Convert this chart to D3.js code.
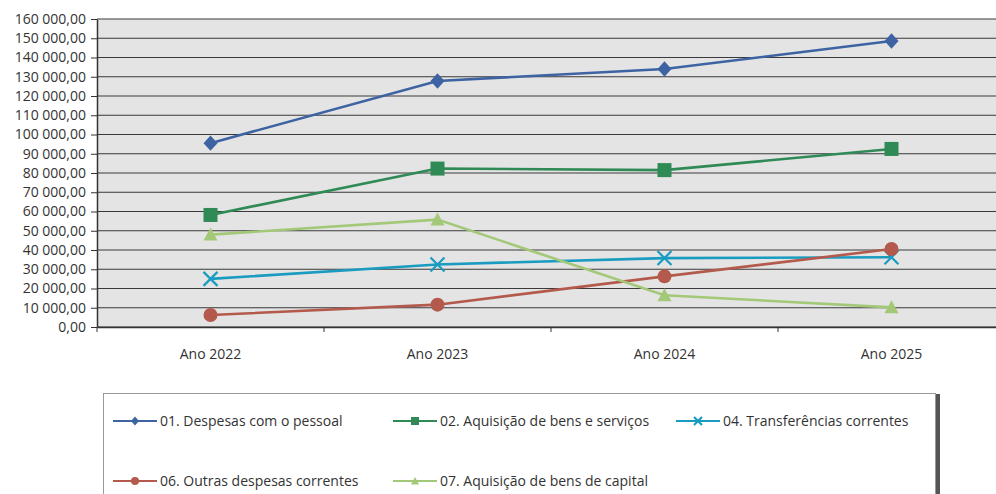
<!DOCTYPE html>
<html><head><meta charset="utf-8">
<script src="https://cdn.jsdelivr.net/npm/d3@7"></script>
<style>body{margin:0;background:#fff}svg{display:block}text{font-family:"Open Sans","Noto Sans",sans-serif;fill:#333}</style>
</head><body><svg id="c" width="996" height="494"></svg>
<script>
const categories = ["Ano 2022","Ano 2023","Ano 2024","Ano 2025"];
const seriesNames = ["01. Despesas com o pessoal","02. Aquisição de bens e serviços","04. Transferências correntes","06. Outras despesas correntes","07. Aquisição de bens de capital"];
const pessoal = [95500, 127800, 134000, 148600];
const bensServicos = [58200, 82300, 81500, 92500];
const transferencias = [25000, 32500, 35800, 36200];
const outras = [6200, 11600, 26300, 40500];
const bensCapital = [48000, 55800, 16500, 10200];
const yTicks = d3.range(0, 160001, 10000);

const series = [
 {name: seriesNames[0], values: pessoal, color: "#3e63a3", shape: "diamond"},
 {name: seriesNames[1], values: bensServicos, color: "#2f8a56", shape: "square"},
 {name: seriesNames[2], values: transferencias, color: "#1a9cc0", shape: "x"},
 {name: seriesNames[3], values: outras, color: "#b35a4c", shape: "circle"},
 {name: seriesNames[4], values: bensCapital, color: "#a3c878", shape: "triangle"}
];

const svg = d3.select("#c");
const m = {left: 97, top: 19, bottom: 327};
const x = d3.scaleBand().domain(categories).range([m.left, m.left + 4*227]);
const y = d3.scaleLinear().domain([0,160000]).range([m.bottom, m.top]);

// plot background
svg.append("rect").attr("x", m.left).attr("y", m.top).attr("width", 996-m.left).attr("height", m.bottom-m.top).attr("fill", "#e4e4e4");

// gridlines
svg.append("g").selectAll("line").data(yTicks).join("line")
 .attr("x1", m.left).attr("x2", 996).attr("y1", d=>y(d)).attr("y2", d=>y(d))
 .attr("stroke", "#3a3a3a").attr("stroke-width", 1.2);

const fmt = v => { const s = d3.format(",.2f")(v); return s.replace(/,/g," ").replace(/\.(\d\d)$/, ",$1"); };
const ya = svg.append("g").attr("transform", `translate(${m.left},0)`)
 .call(d3.axisLeft(y).tickValues(yTicks).tickFormat(fmt).tickSize(6).tickSizeOuter(0));
ya.select(".domain").attr("stroke", "#333").attr("stroke-width", 1.5);
ya.selectAll(".tick line").attr("stroke", "#333");
ya.selectAll("text").attr("font-size", 14).attr("fill", "#3a3a3a").attr("x", -11).style("font-family", '"Open Sans",sans-serif');

const xa = svg.append("g").attr("transform", `translate(0,${m.bottom})`)
 .call(d3.axisBottom(x).tickSize(0));
xa.select(".domain").attr("stroke", "#333").attr("stroke-width", 1.5);
xa.selectAll("text").attr("font-size", 14).attr("fill", "#333").attr("dy", "2.05em").style("font-family", '"Open Sans",sans-serif');
// boundary tick marks
svg.append("g").selectAll("line").data(categories).join("line")
 .attr("x1", d=>x(d)).attr("x2", d=>x(d)).attr("y1", m.bottom).attr("y2", m.bottom+5)
 .attr("stroke", "#333");

const cx = d => x(d) + x.bandwidth()/2;
const line = d3.line().x((d,i)=>cx(categories[i])).y(d=>y(d));

function marker(g, shape, color, s) {
 if (shape === "diamond") { const w = s*0.5, h = s*0.55; g.append("path").attr("d", `M0,${-h}L${w},0L0,${h}L${-w},0Z`).attr("fill", color); }
 else if (shape === "square") g.append("rect").attr("x",-s/2).attr("y",-s/2).attr("width",s).attr("height",s).attr("fill",color);
 else if (shape === "circle") g.append("circle").attr("r", s/2).attr("fill", color);
 else if (shape === "triangle") { const h = s*0.5; g.append("path").attr("d", `M0,${-h}L${h},${h*0.85}L${-h},${h*0.85}Z`).attr("fill", color); }
 else if (shape === "x") { const h = s/2; g.append("path").attr("d",`M${-h},${-h}L${h},${h}M${-h},${h}L${h},${-h}`).attr("stroke",color).attr("stroke-width",2.2).attr("fill","none"); }
}

series.forEach(sr => {
 svg.append("path").datum(sr.values).attr("d", line).attr("fill","none").attr("stroke", sr.color).attr("stroke-width", 2.6);
 sr.values.forEach((v,i) => {
  const g = svg.append("g").attr("transform", `translate(${cx(categories[i])},${y(v)})`);
  marker(g, sr.shape, sr.color, 14);
 });
});

// legend
svg.append("rect").attr("x", 935).attr("y", 394).attr("width", 5).attr("height", 110).attr("fill", "#555");
svg.append("rect").attr("x", 103.5).attr("y", 393.5).attr("width", 832).attr("height", 120).attr("fill", "#fff").attr("stroke", "#999");
const legPos = [[113,421],[393,421],[676,421],[113,481],[393,481]];
series.forEach((sr,i) => {
 const [lx, ly] = legPos[i];
 const g = svg.append("g");
 g.append("line").attr("x1", lx).attr("x2", lx+44).attr("y1", ly).attr("y2", ly).attr("stroke", sr.color).attr("stroke-width", 2);
 const mg = g.append("g").attr("transform", `translate(${lx+22},${ly})`);
 marker(mg, sr.shape, sr.color, 8);
 g.append("text").attr("x", lx+47).attr("y", ly).attr("dy", "0.35em").attr("font-size", 14).attr("fill", "#333").text(sr.name);
});
</script></body></html>
